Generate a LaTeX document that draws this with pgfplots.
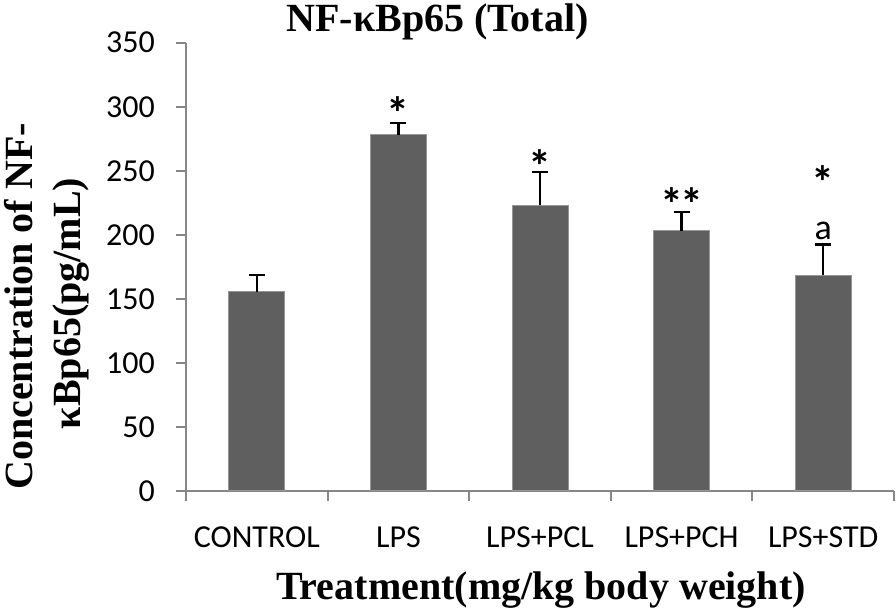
\documentclass[border=0pt]{standalone}
\usepackage{fontspec}
\setmainfont{Liberation Serif}
\newfontfamily\carlito{Carlito}
\usepackage{pgfplots}
\pgfplotsset{compat=1.18}
\definecolor{barfill}{RGB}{95,95,95}
\definecolor{baredge}{RGB}{150,150,150}
\definecolor{axgray}{RGB}{135,135,135}
\begin{document}
\begin{tikzpicture}[x=1bp,y=1bp]
\path[use as bounding box] (0,0) rectangle (896,611);
\begin{axis}[
  at={(186bp,120bp)}, anchor=south west,
  scale only axis, width=708bp, height=448.3bp,
  xmin=-0.5, xmax=4.5, ymin=0, ymax=350,
  axis x line=bottom, axis y line=left,
  axis line style={-, axgray, line width=2bp},
  clip=false,
  ytick={0,50,...,350},
  xtick={0,1,2,3,4},
  xticklabels={CONTROL,LPS,LPS+PCL,LPS+PCH,LPS+STD},
  minor xtick={-0.5,0.5,1.5,2.5,3.5,4.5},
  tick align=outside,
  major tick length=10bp,
  minor tick length=10bp,
  major x tick style={draw=none},
  minor x tick style={axgray, line width=2bp},
  major y tick style={axgray, line width=2bp},
  /pgf/number format/assume math mode=true,
  tick label style={font=\carlito\fontsize{32bp}{34bp}\selectfont},
  yticklabel style={anchor=east, inner sep=0pt, xshift=-21bp},
  xticklabel style={anchor=base, inner sep=0pt, yshift=-47bp},
]
\addplot[ybar, bar width=56bp, fill=barfill, draw=baredge, line width=1bp,
  error bars/.cd, y dir=plus, y explicit,
  error bar style={black, line width=2.5bp},
  error mark options={black, line width=2.5bp, mark size=8bp, rotate=90}]
  coordinates {
  (0,155.6) +- (0,13.0)
  (1,278.0) +- (0,9.4)
  (2,223.0) +- (0,26.0)
  (3,203.0) +- (0,14.7)
  (4,168.6) +- (0,23.9)
  };
\node[inner sep=0pt, font=\carlito\bfseries\fontsize{46bp}{48bp}\selectfont] at (axis cs:1,295) {*};
\node[inner sep=0pt, font=\carlito\bfseries\fontsize{46bp}{48bp}\selectfont] at (axis cs:2,254) {*};
\node[inner sep=0pt, font=\carlito\bfseries\fontsize{46bp}{48bp}\selectfont] at (axis cs:3,224) {*\kern-3bp*};
\node[inner sep=0pt, font=\carlito\bfseries\fontsize{46bp}{48bp}\selectfont] at (axis cs:4,241) {*};
\node[inner sep=0pt, font=\carlito\fontsize{36bp}{38bp}\selectfont] at (axis cs:4,203) {a};
\end{axis}
\node[inner sep=0pt, anchor=base, font=\bfseries\fontsize{40bp}{44bp}\selectfont] at (437.5,579) {NF-κBp65 (Total)};
\node[inner sep=0pt, anchor=base, rotate=90, font=\bfseries\fontsize{40bp}{44bp}\selectfont] at (32,304.5) {Concentration of NF-};
\node[inner sep=0pt, anchor=base, rotate=90, font=\bfseries\fontsize{40bp}{44bp}\selectfont] at (80,307.5) {κBp65(pg/mL)};
\node[inner sep=0pt, anchor=base, font=\bfseries\fontsize{40bp}{44bp}\selectfont] at (541,11) {Treatment(mg/kg body weight)};
\end{tikzpicture}
\end{document}
